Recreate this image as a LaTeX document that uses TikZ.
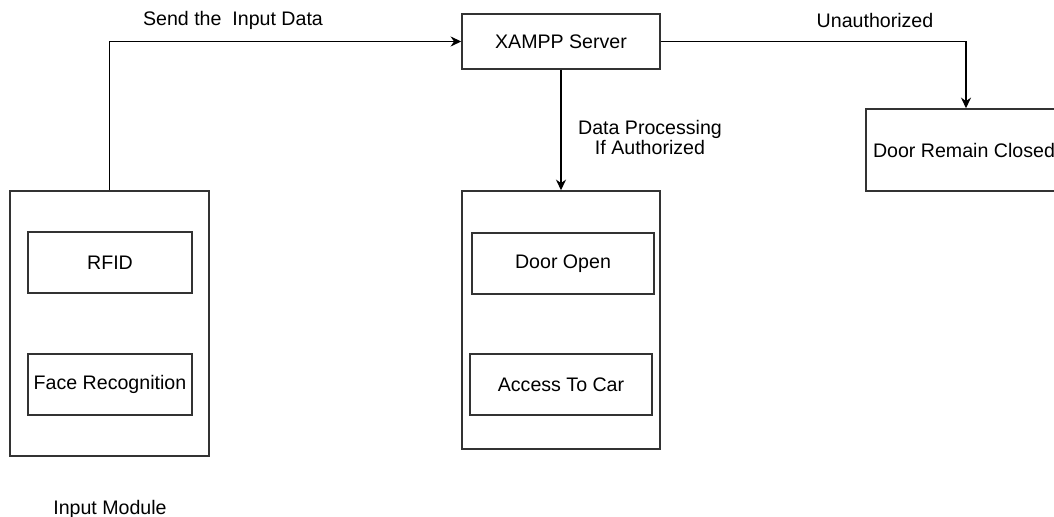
\documentclass[tikz,border=0pt]{standalone}
\usepackage{fontspec}
\setmainfont{Liberation Sans}
\usetikzlibrary{arrows.meta}

\begin{document}
\begin{tikzpicture} 
		[x=0.75pt,y=-0.75pt,
		 box/.style= {rectangle,draw=black!80,line width=1.1pt,inner sep=0pt,font=\fontsize{14.7}{15}\selectfont},
		 note/.style= {align=center,font=\fontsize{14.7}{15}\selectfont},
		 branch/.style= {-{Stealth[length=8pt,width=7.5pt]},line width=1.1pt}] 
		
		\useasboundingbox (0,0) rectangle (1054,517);
		
		% input side
		\node[box,minimum width=149.25pt,minimum height=198.75pt] (input) at (109.5,323.5) {};
		\node[box,minimum width=123pt,minimum height=45.75pt] (rfid) at (110,262.5) {RFID};
		\node[box,minimum width=123pt,minimum height=45.75pt] (face) at (110,384.5) {Face Recognition};
		\node[note] (inputlbl) at (110,509) {Input Module};
		
		% server and outcomes
		\node[box,minimum width=148.5pt,minimum height=41.25pt] (xampp) at (561,41.5) {XAMPP Server};
		\node[box,minimum width=148.5pt,minimum height=193.5pt] (output) at (561,320) {};
		\node[box,minimum width=136.5pt,minimum height=45.75pt] (open) at (563,263.5) {Door Open};
		\node[box,minimum width=136.5pt,minimum height=45.75pt] (car) at (561,384.5) {Access To Car};
		\node[box,minimum width=150pt,minimum height=61.5pt] (closed) at (966,150) {};
		\node[note] (closedlbl) at (964,150) {Door Remain Closed};
		
		\draw[branch] (input.north) |- (xampp.west);
		\node[note] (sendlbl) at (233,20) {Send the\ \ Input Data};
		
		\draw[branch] (xampp.south) -- (output.north);
		\node[note] (authlbl) at (650,137) {Data Processing\\If Authorized};
		
		\draw[branch] (xampp.east) -| (closed.north);
		\node[note] (unauthlbl) at (875,20) {Unauthorized};
		
	\end{tikzpicture}
\end{document}
